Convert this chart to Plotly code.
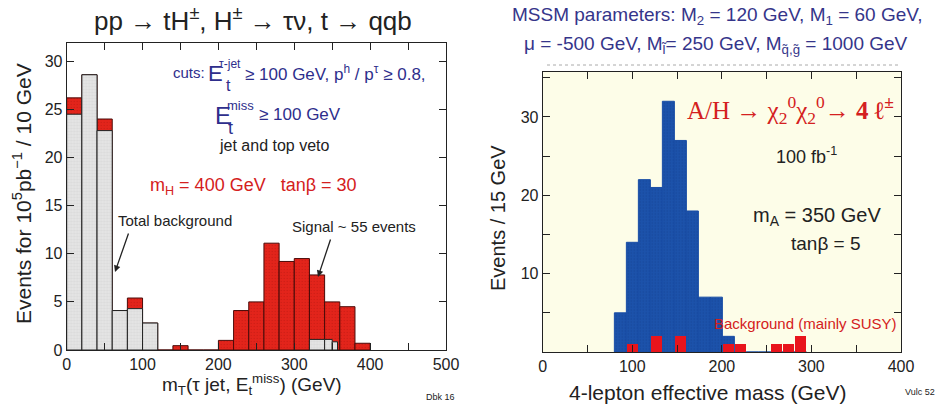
import numpy as np
import plotly.graph_objects as go

# ---------------- data: left panel ----------------
left_edges = [0, 20, 40, 60, 80, 100, 120, 140, 160, 180, 200,
              220, 240, 260, 280, 300, 320, 340, 360, 380, 400]
left_total = [26.2, 28.6, 24.0, 4.1, 5.4, 2.8, 0.0, 0.45, 0.0, 0.0,
              1.0, 4.1, 5.0, 11.1, 9.2, 9.5, 7.8, 5.0, 4.5, 0.7]
bg_lo = [0, 20, 40, 60, 80, 100, 320, 340, 350]
bg_hi = [20, 40, 60, 80, 100, 120, 340, 350, 357]
bg_val = [24.5, 28.6, 22.8, 4.1, 4.3, 2.8, 1.1, 1.1, 0.85]

# ---------------- data: right panel ----------------
right_edges = [80, 93.4, 106.8, 120.2, 133.6, 147.0, 160.4, 173.8, 187.2,
               200.6, 214.0, 227.4, 240.8, 254.2, 267.6, 281.0, 294.4]
right_signal = [5, 14, 22, 21, 32, 27, 18, 7, 7, 2, 0, 0, 0, 0, 0, 0]
right_bg = [0, 1, 0, 2, 0, 2, 0, 0, 0, 1, 1, 0, 0, 1, 1, 2]

FONT = "Liberation Sans, Arial, sans-serif"
SERIF = "Liberation Serif, DejaVu Serif, serif"

le = np.array(left_edges, float)
lc = (le[:-1] + le[1:]) / 2
lw = np.diff(le)
blo = np.array(bg_lo, float)
bhi = np.array(bg_hi, float)
re_ = np.array(right_edges, float)
rc = (re_[:-1] + re_[1:]) / 2
rw = np.diff(re_)

fig = go.Figure()

# left: total (signal stacked on background), red
fig.add_trace(go.Bar(
    x=lc, y=left_total, width=lw, xaxis="x", yaxis="y",
    marker=dict(color="#e0221a", line=dict(color="#4a0a08", width=1),
                pattern=dict(shape=".", size=3, solidity=0.15,
                             fgcolor="#b01510", bgcolor="#e3241b")),
    showlegend=False, hoverinfo="skip"))
# left: total background, grey
fig.add_trace(go.Bar(
    x=(blo + bhi) / 2, y=bg_val, width=bhi - blo, xaxis="x", yaxis="y",
    marker=dict(color="#dcdcdc", line=dict(color="#222222", width=1),
                pattern=dict(shape="+", size=3, solidity=0.15,
                             fgcolor="#b4b4b4", bgcolor="#e4e4e4")),
    showlegend=False, hoverinfo="skip"))

# right: signal blue
fig.add_trace(go.Bar(
    x=rc, y=right_signal, width=rw, xaxis="x2", yaxis="y2",
    marker=dict(color="#1a4ea6", line=dict(color="#1a4ea6", width=1),
                pattern=dict(shape=".", size=3, solidity=0.2,
                             fgcolor="#0e3a86", bgcolor="#1c52ab")),
    showlegend=False, hoverinfo="skip"))
# right: background red
fig.add_trace(go.Bar(
    x=rc, y=right_bg, width=rw * 0.95, xaxis="x2", yaxis="y2",
    marker=dict(color="#e8141c", line=dict(width=0)),
    showlegend=False, hoverinfo="skip"))

axis_common = dict(showline=True, linecolor="#222", linewidth=1, mirror="ticks",
                   ticks="inside", ticklen=7, tickcolor="#222", showgrid=False,
                   zeroline=False, automargin=False,
                   tickfont=dict(family=FONT, size=16, color="#222"))

fig.update_layout(
    width=939, height=409, margin=dict(l=0, r=0, t=0, b=0, autoexpand=False),
    paper_bgcolor="white", plot_bgcolor="white", barmode="overlay", bargap=0,
    font=dict(family=FONT, color="#222"),
    xaxis=dict(domain=[66.7/939, 446/939], range=[0, 500], anchor="y",
               tickvals=[0, 100, 200, 300, 400, 500],
               minor=dict(ticks="inside", dtick=50, ticklen=7, tickcolor="#222"),
               **axis_common),
    yaxis=dict(domain=[1-350/409, 1-43/409], range=[0, 31.9], anchor="x",
               tickvals=[0, 5, 10, 15, 20, 25, 30],
               **axis_common),
    xaxis2=dict(domain=[542.7/939, 901/939], range=[0, 400], anchor="y2",
                tickvals=[0, 100, 200, 300, 400],
                minor=dict(ticks="inside", dtick=50, ticklen=7, tickcolor="#222"),
                **axis_common),
    yaxis2=dict(domain=[1-352/409, 1-71.5/409], range=[0, 35.8], anchor="x2",
                tickvals=[10, 20, 30],
                minor=dict(ticks="inside", dtick=5, ticklen=7, tickcolor="#222"),
                **axis_common),
)

# right panel cream background
fig.add_shape(type="rect", xref="x2 domain", yref="y2 domain", x0=0, x1=1, y0=0, y1=1,
              fillcolor="#fdfde8", line=dict(width=0), layer="below")
# dotted rule under the MSSM header
fig.add_shape(type="line", xref="paper", yref="paper", x0=547/939, x1=900/939,
              y0=1-65/409, y1=1-65/409, line=dict(color="#aaaaaa", width=1, dash="dot"))

def px_x(px):
    return px / 939

def px_y(py):
    return 1 - py / 409

def ann(text, px, py, size, color="#222", xanchor="left", family=FONT, angle=0):
    fig.add_annotation(text=text, x=px_x(px), y=px_y(py), xref="paper", yref="paper",
                       showarrow=False, xanchor=xanchor, yanchor="middle",
                       textangle=angle, borderpad=0,
                       font=dict(family=family, size=size, color=color))

# titles
ann("pp → tH<sup>±</sup>, H<sup>±</sup> → τν, t → qqb", 253, 19, 26, xanchor="center")
ann("MSSM parameters: M<sub>2</sub> = 120 GeV, M<sub>1</sub> = 60 GeV,", 717, 16, 19, color="#35358a", xanchor="center")
ann("μ = -500 GeV, M<sub>l̃</sub>= 250 GeV, M<sub>q̃,g̃</sub> = 1000 GeV", 716, 45, 19, color="#35358a", xanchor="center")

# axis titles
ann("m<sub>T</sub>(τ jet, E<sub>t</sub><sup>miss</sup>) (GeV)", 252, 384, 19, xanchor="center")
ann("Events for 10<sup>5</sup>pb<sup>−1</sup> / 10 GeV", 22, 194, 21, xanchor="center", angle=-90)
ann("4-lepton effective mass (GeV)", 707, 392, 21, xanchor="center")
ann("Events / 15 GeV", 498, 218, 20, xanchor="center", angle=-90)

# left panel texts
BLUE = "#2e2e8c"
ann("cuts:", 172, 72, 15, color=BLUE)
ann("E", 207, 73, 22, color=BLUE)
ann("τ-jet", 218, 64, 12, color=BLUE)
ann("t", 225, 86, 16, color=BLUE)
ann("≥ 100 GeV, p<sup>h</sup> / p<sup>τ</sup> ≥ 0.8,", 244, 73, 17, color=BLUE)
ann("E", 214, 115, 24, color=BLUE)
ann("miss", 226, 106, 13, color=BLUE)
ann("t", 227, 128, 18, color=BLUE)
ann("≥ 100 GeV", 258, 114, 17, color=BLUE)
ann("jet and top veto", 218, 145, 16)
ann("m<sub>H</sub> = 400 GeV   tanβ = 30", 149, 186, 18, color="#d42020")
ann("Total background", 117, 220, 15)
ann("Signal ~ 55 events", 291, 227, 15)
ann("Dbk 16", 425, 397, 9)

# arrows (tail given as pixel offset from the tip)
fig.add_annotation(x=px_x(115), y=px_y(272), ax=14, ay=-40,
                   xref="paper", yref="paper",
                   showarrow=True, arrowhead=2, arrowsize=1, arrowwidth=1.3,
                   arrowcolor="#222", text="")
fig.add_annotation(x=px_x(318), y=px_y(277), ax=13, ay=-39,
                   xref="paper", yref="paper",
                   showarrow=True, arrowhead=2, arrowsize=1, arrowwidth=1.3,
                   arrowcolor="#222", text="")

# right panel texts
ann("A/H → χ<sub>2</sub><sup>0</sup>χ<sub>2</sub><sup>0</sup>→ <b>4 ℓ<sup>±</sup></b>", 686, 110, 25,
    color="#d42020", family=SERIF)
ann("100 fb<sup>-1</sup>", 775, 155, 18)
ann("m<sub>A</sub> = 350 GeV", 752, 216, 20)
ann("tanβ = 5", 790, 243, 19)
ann("Background (mainly SUSY)", 713, 323, 15, color="#d42020")
ann("Vulc 52", 904, 392, 9)

fig.write_html("out.html",
               config={"displayModeBar": False, "staticPlot": True},
               post_script="document.body.style.margin='0';document.body.style.overflow='hidden';")
